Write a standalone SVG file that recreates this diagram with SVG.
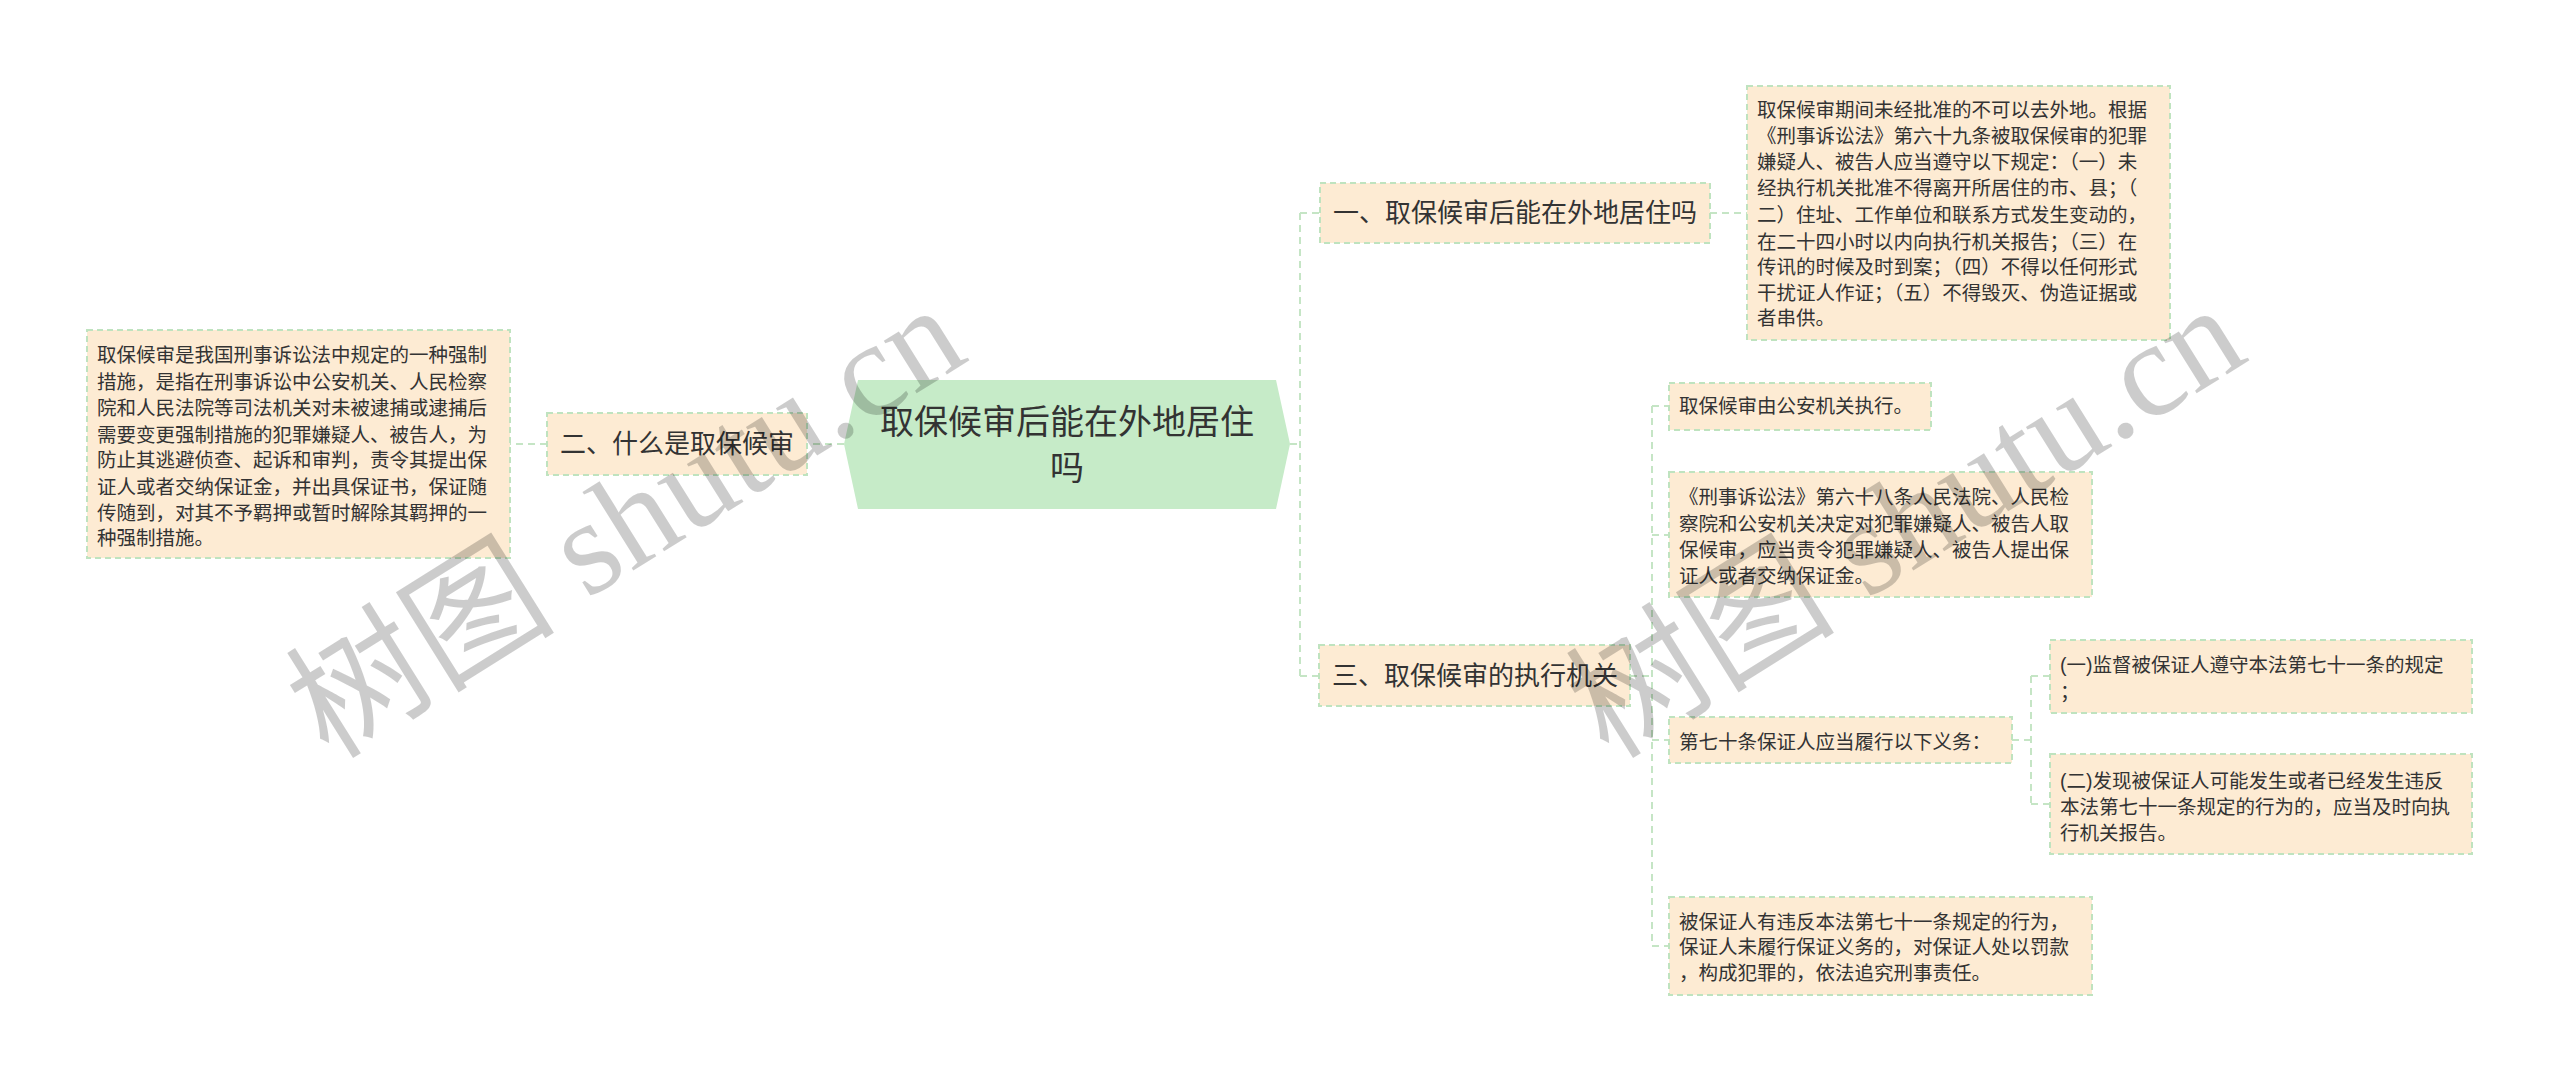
<svg xmlns="http://www.w3.org/2000/svg" width="2560" height="1081" viewBox="0 0 2560 1081">
<style>
.n{fill:#fdebd3;stroke:#bfe3bf;stroke-width:2;stroke-dasharray:6 4}
.t{font-family:"Liberation Sans","Noto Sans CJK SC",sans-serif;fill:#333}
.s{font-size:19.5px}
.e{fill:none;stroke:#c5e5c5;stroke-width:2;stroke-dasharray:7 5}
.w{font-family:"Liberation Serif","Noto Sans CJK SC",serif;font-size:135px;fill:#000;fill-opacity:0.2}
</style>
<rect width="2560" height="1081" fill="#fff"/>
<g id="connectors">
<path class="e" d="M1290 444H1300M1300 213V676M1300 213H1320M1300 676H1319"/>
<path class="e" d="M1710 213H1747"/>
<path class="e" d="M844 444H807M547 444H510"/>
<path class="e" d="M1630 676H1652M1652 406V946M1652 406H1669M1652 535H1669M1652 740H1669M1652 946H1669"/>
<path class="e" d="M2012 740H2031M2031 676V804M2031 676H2050M2031 804H2050"/>
</g>
<g id="center">
<polygon points="858,380 1276,380 1290,444 1276,509 858,509 844,444" fill="#c6ebc8"/>
<text class="t" font-size="34" text-anchor="middle"><tspan x="1067" y="434">取保候审后能在外地居住</tspan><tspan x="1067" y="480">吗</tspan></text>
</g>
<g id="n2">
<rect class="n" x="547" y="413" width="260" height="62"/>
<text class="t" font-size="26" x="560" y="453">二、什么是取保候审</text>
</g>
<g id="n2c">
<rect class="n" x="87" y="330" width="423" height="228"/>
<text class="t s"><tspan x="97" y="362">取保候审是我国刑事诉讼法中规定的一种强制</tspan><tspan x="97" y="389">措施，是指在刑事诉讼中公安机关、人民检察</tspan><tspan x="97" y="415">院和人民法院等司法机关对未被逮捕或逮捕后</tspan><tspan x="97" y="442">需要变更强制措施的犯罪嫌疑人、被告人，为</tspan><tspan x="97" y="467">防止其逃避侦查、起诉和审判，责令其提出保</tspan><tspan x="97" y="494">证人或者交纳保证金，并出具保证书，保证随</tspan><tspan x="97" y="520">传随到，对其不予羁押或暂时解除其羁押的一</tspan><tspan x="97" y="545">种强制措施。</tspan></text>
</g>
<g id="n1">
<rect class="n" x="1320" y="183" width="390" height="60"/>
<text class="t" font-size="26" x="1333" y="222">一、取保候审后能在外地居住吗</text>
</g>
<g id="n1c">
<rect class="n" x="1747" y="86" width="423" height="254"/>
<text class="t s"><tspan x="1757" y="117">取保候审期间未经批准的不可以去外地。根据</tspan><tspan x="1757" y="143">《刑事诉讼法》第六十九条被取保候审的犯罪</tspan><tspan x="1757" y="169">嫌疑人、被告人应当遵守以下规定：（一）未</tspan><tspan x="1757" y="195">经执行机关批准不得离开所居住的市、县；（</tspan><tspan x="1757" y="222">二）住址、工作单位和联系方式发生变动的，</tspan><tspan x="1757" y="249">在二十四小时以内向执行机关报告；（三）在</tspan><tspan x="1757" y="274">传讯的时候及时到案；（四）不得以任何形式</tspan><tspan x="1757" y="300">干扰证人作证；（五）不得毁灭、伪造证据或</tspan><tspan x="1757" y="325">者串供。</tspan></text>
</g>
<g id="n3">
<rect class="n" x="1319" y="645" width="311" height="61"/>
<text class="t" font-size="26" x="1332" y="685">三、取保候审的执行机关</text>
</g>
<g id="n3a">
<rect class="n" x="1669" y="383" width="262" height="47"/>
<text class="t s" x="1679" y="413">取保候审由公安机关执行。</text>
</g>
<g id="n3b">
<rect class="n" x="1669" y="472" width="423" height="125"/>
<text class="t s"><tspan x="1679" y="504">《刑事诉讼法》第六十八条人民法院、人民检</tspan><tspan x="1679" y="531">察院和公安机关决定对犯罪嫌疑人、被告人取</tspan><tspan x="1679" y="557">保候审，应当责令犯罪嫌疑人、被告人提出保</tspan><tspan x="1679" y="583">证人或者交纳保证金。</tspan></text>
</g>
<g id="n3c">
<rect class="n" x="1669" y="717" width="343" height="46"/>
<text class="t s" x="1679" y="749">第七十条保证人应当履行以下义务：</text>
</g>
<g id="n3c1">
<rect class="n" x="2050" y="640" width="422" height="73"/>
<text class="t s"><tspan x="2060" y="672">(一)监督被保证人遵守本法第七十一条的规定</tspan><tspan x="2060" y="699">；</tspan></text>
</g>
<g id="n3c2">
<rect class="n" x="2050" y="754" width="422" height="100"/>
<text class="t s"><tspan x="2060" y="788">(二)发现被保证人可能发生或者已经发生违反</tspan><tspan x="2060" y="814">本法第七十一条规定的行为的，应当及时向执</tspan><tspan x="2060" y="840">行机关报告。</tspan></text>
</g>
<g id="n3d">
<rect class="n" x="1669" y="897" width="423" height="98"/>
<text class="t s"><tspan x="1679" y="929">被保证人有违反本法第七十一条规定的行为，</tspan><tspan x="1679" y="954">保证人未履行保证义务的，对保证人处以罚款</tspan><tspan x="1679" y="980">，构成犯罪的，依法追究刑事责任。</tspan></text>
</g>
<text class="w" transform="translate(650,560) rotate(-32)" text-anchor="middle">树图 shutu.cn</text>
<text class="w" transform="translate(1930,560) rotate(-32)" text-anchor="middle">树图 shutu.cn</text>
</svg>
